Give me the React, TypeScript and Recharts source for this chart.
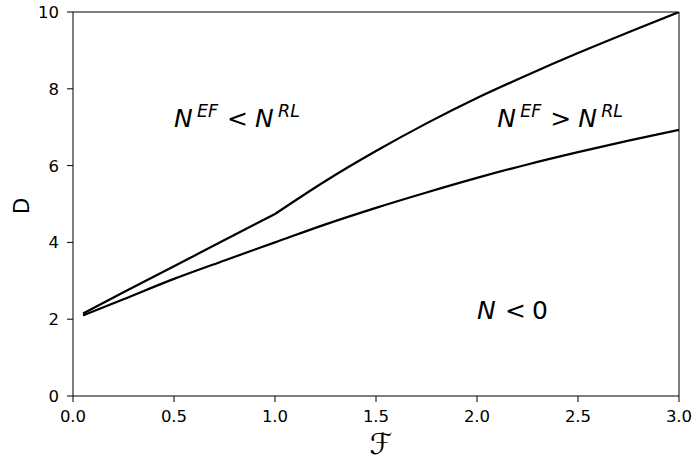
import React from "react";
import { LineChart, Line, XAxis, YAxis, ReferenceLine, ReferenceDot } from "recharts";

const upperLowF = [0.05, 0.25, 0.5, 0.75, 1.0];
const upperLowD = [2.15, 2.7, 3.38, 4.06, 4.74];
const upperHighF = [1.0, 1.25, 1.5, 1.75, 2.0, 2.25, 2.5, 2.75, 3.0];
const upperHighD = [4.74, 5.6, 6.38, 7.1, 7.76, 8.36, 8.93, 9.47, 10.0];
const lowerF = [0.05, 0.25, 0.5, 0.75, 1.0, 1.25, 1.5, 1.75, 2.0, 2.25, 2.5, 2.75, 3.0];
const lowerD = [2.1, 2.52, 3.05, 3.53, 4.0, 4.47, 4.9, 5.3, 5.68, 6.03, 6.35, 6.65, 6.93];
const xTicks = [0, 0.5, 1.0, 1.5, 2.0, 2.5, 3.0];
const yTicks = [0, 2, 4, 6, 8, 10];

const upperLow = upperLowF.map((x, i) => ({ x, y: upperLowD[i] }));
const upperHigh = upperHighF.map((x, i) => ({ x, y: upperHighD[i] }));
const lower = lowerF.map((x, i) => ({ x, y: lowerD[i] }));

const FONT = "DejaVu Sans";

const XTick = (props: any) => {
  const { x, y, payload } = props;
  return (
    <text x={x} y={y + 18} textAnchor="middle" fontFamily={FONT} fontSize={16.5} fill="#000">
      {Number(payload.value).toFixed(1)}
    </text>
  );
};

const YTick = (props: any) => {
  const { x, y, payload } = props;
  return (
    <text x={x - 6} y={y + 6} textAnchor="end" fontFamily={FONT} fontSize={16.5} fill="#000">
      {payload.value}
    </text>
  );
};

const XLabel = (props: any) => {
  const { viewBox } = props;
  const cx = viewBox.x + viewBox.width / 2 + 5;
  return (
    <text x={cx} y={454} textAnchor="middle" fontFamily={FONT} fontSize={29} fontStyle="italic" fill="#000">
      ℱ
    </text>
  );
};

const YLabel = (props: any) => {
  const { viewBox } = props;
  const cy = viewBox.y + viewBox.height / 2 + 2;
  return (
    <text x={29} y={cy} textAnchor="middle" fontFamily={FONT} fontSize={21} fill="#000" transform={`rotate(-90, 29, ${cy})`}>
      D
    </text>
  );
};

const Ratio = (sign: string) => (props: any) => {
  const { viewBox } = props;
  const x = viewBox.x;
  const y = viewBox.y;
  return (
    <text x={x} y={y} fontFamily={FONT} fontSize={25} fill="#000">
      <tspan fontStyle="italic" x={x}>N</tspan>
      <tspan fontStyle="italic" fontSize={17.5} x={x + 23} y={y - 10}>EF</tspan>
      <tspan x={x + 53} y={y}>{sign}</tspan>
      <tspan fontStyle="italic" x={x + 81} y={y}>N</tspan>
      <tspan fontStyle="italic" fontSize={17.5} x={x + 104} y={y - 10}>RL</tspan>
    </text>
  );
};

const NegLabel = (props: any) => {
  const { viewBox } = props;
  const x = viewBox.x;
  const y = viewBox.y;
  return (
    <text x={x} y={y} fontFamily={FONT} fontSize={25} fill="#000">
      <tspan fontStyle="italic" x={x}>N</tspan>
      <tspan x={x + 28}>{"<"}</tspan>
      <tspan x={x + 55}>0</tspan>
    </text>
  );
};

export default function App() {
  return (
    <div style={{ position: "absolute", left: 0, top: 0 }}>
      <LineChart
        width={694}
        height={463}
        margin={{ top: 12, right: 15, left: 13, bottom: 37 }}
      >
        <XAxis
          dataKey="x"
          type="number"
          domain={[0, 3]}
          ticks={xTicks}
          allowDataOverflow
          stroke="#000"
          tickSize={6}
          height={30}
          tick={XTick}
          label={{ content: XLabel }}
        />
        <YAxis
          type="number"
          domain={[0, 10]}
          ticks={yTicks}
          allowDataOverflow
          stroke="#000"
          tickSize={6}
          width={60}
          tick={YTick}
          label={{ content: YLabel }}
        />
        <ReferenceLine y={10} stroke="#000" strokeWidth={1} />
        <ReferenceLine x={3} stroke="#000" strokeWidth={1} />
        <Line data={upperLow} dataKey="y" stroke="#000" strokeWidth={2.2} dot={false} isAnimationActive={false} type="linear" />
        <Line data={upperHigh} dataKey="y" stroke="#000" strokeWidth={2.2} dot={false} isAnimationActive={false} type="monotone" />
        <Line data={lower} dataKey="y" stroke="#000" strokeWidth={2.2} dot={false} isAnimationActive={false} type="monotone" />
        <ReferenceDot x={0.5} y={7} r={0} fill="none" stroke="none" label={{ content: Ratio("<") }} />
        <ReferenceDot x={2.1} y={7} r={0} fill="none" stroke="none" label={{ content: Ratio(">") }} />
        <ReferenceDot x={2.0} y={2} r={0} fill="none" stroke="none" label={{ content: NegLabel }} />
      </LineChart>
    </div>
  );
}
